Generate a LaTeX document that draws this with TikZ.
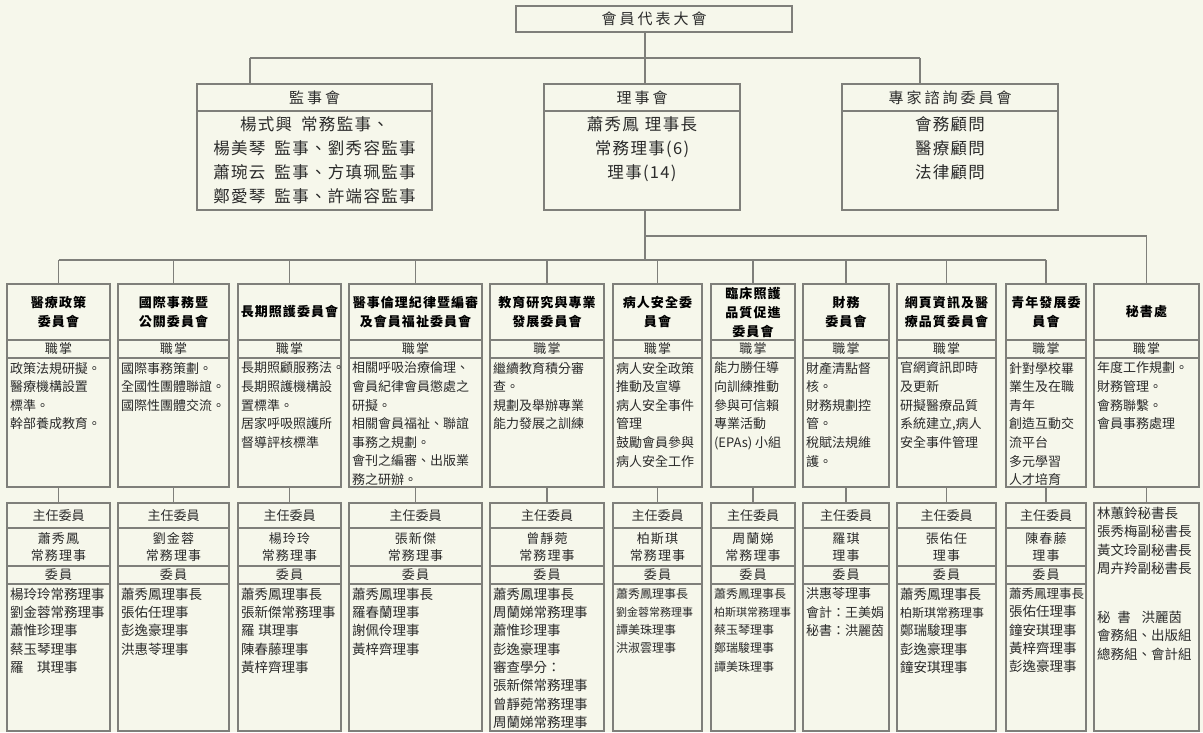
\documentclass[tikz,border=0pt]{standalone}
\usepackage{fontspec}
\setmainfont{Noto Sans CJK TC}
\newfontfamily\spacedfont{Noto Sans CJK TC}[LetterSpace=20]
\newfontfamily\loosefont{Noto Sans CJK TC}[LetterSpace=8]
\usepackage{xcolor}
\usepackage{tikz}
\definecolor{paper}{HTML}{F6F7EB}
\definecolor{rule}{HTML}{7F7F7A}
\definecolor{ink}{HTML}{2B2B2B}
\newcommand\fitline[2]{{\fontsize{#1}{18.3}\selectfont #2}}
\tikzset{
  link/.style={draw=rule, line width=1.2pt},
  cell/.style={draw=rule, line width=1.2pt, anchor=north west, outer sep=0pt, inner sep=1pt, align=center, text=ink},
  topbox/.style={cell, font=\spacedfont\fontsize{15}{18}\selectfont},
  topnote/.style={anchor=north, align=center, inner sep=5pt, text=ink, font=\loosefont\fontsize{16.5}{24}\selectfont},
  ttl/.style={cell, minimum height=56, text=black, font=\loosefont\bfseries\fontsize{13}{19}\selectfont},
  tag/.style={cell, minimum height=18, font=\loosefont\fontsize{13}{16}\selectfont},
  dbox/.style={cell, minimum height=129},
  chief/.style={cell, minimum height=25, font=\fontsize{13}{16}\selectfont},
  who/.style={cell, minimum height=38, font=\loosefont\fontsize{13}{17}\selectfont},
  wbox/.style={cell, minimum height=147},
  duties/.style={anchor=north west, align=left, inner xsep=3, inner ysep=4, outer sep=0pt, minimum width=0, minimum height=0, text=ink, font=\fontsize{13}{18.6}\selectfont},
  members/.style={duties, font=\fontsize{13.5}{18.3}\selectfont}
}
\begin{document}
\begin{tikzpicture}[x=1pt,y=-1pt]
\useasboundingbox (0,0) rectangle (1203,732);
\fill[paper] (0,0) rectangle (1203,732);

% top level
\node[topbox, minimum width=276, minimum height=26] (dahui) at (516,6) {會員代表大會};

\node[topbox, minimum width=235, minimum height=27] (jianshiH) at (197,84) {監事會};
\node[cell, minimum width=235, minimum height=99] (jianshiB) at (jianshiH.south west) {};
\node[topnote] (jianshiT) at (jianshiB.north) {楊式興\hspace{9pt}常務監事、\\楊美琴\hspace{9pt}監事、劉秀容監事\\蕭琬云\hspace{9pt}監事、方瑱珮監事\\鄭愛琴\hspace{9pt}監事、許端容監事};

\node[topbox, minimum width=196, minimum height=27] (lishiH) at (544,84) {理事會};
\node[cell, minimum width=196, minimum height=99] (lishiB) at (lishiH.south west) {};
\node[topnote] (lishiT) at (lishiB.north) {蕭秀鳳\hspace{6pt}理事長\\常務理事(6)\\理事(14)};

\node[topbox, minimum width=216, minimum height=27] (zhuanH) at (842,84) {專家諮詢委員會};
\node[cell, minimum width=216, minimum height=99] (zhuanB) at (zhuanH.south west) {};
\node[topnote] (zhuanT) at (zhuanB.north) {會務顧問\\醫療顧問\\法律顧問};

% committees
\begin{scope}[minimum width=103]
\node[ttl] (h1) at (7,284) {醫療政策\\委員會};
\node[tag] (z1) at (h1.south west) {職掌};
\node[dbox] (d1) at (z1.south west) {};
\node[duties] (d1t) at (d1.north west) {政策法規研擬。\\醫療機構設置\\標準。\\幹部養成教育。};
\node[chief] (r1) at (7,503) {主任委員};
\node[who] (n1) at (r1.south west) {蕭秀鳳\\常務理事};
\node[tag] (m1) at (n1.south west) {委員};
\node[wbox] (w1) at (m1.south west) {};
\node[members] (w1t) at (w1.north west) {楊玲玲常務理事\\劉金蓉常務理事\\蕭惟珍理事\\蔡玉琴理事\\羅　琪理事};
\end{scope}

\begin{scope}[minimum width=111]
\node[ttl] (h2) at (118,284) {國際事務暨\\公關委員會};
\node[tag] (z2) at (h2.south west) {職掌};
\node[dbox] (d2) at (z2.south west) {};
\node[duties] (d2t) at (d2.north west) {國際事務策劃。\\全國性團體聯誼。\\國際性團體交流。};
\node[chief] (r2) at (118,503) {主任委員};
\node[who] (n2) at (r2.south west) {劉金蓉\\常務理事};
\node[tag] (m2) at (n2.south west) {委員};
\node[wbox] (w2) at (m2.south west) {};
\node[members] (w2t) at (w2.north west) {蕭秀鳳理事長\\張佑任理事\\彭逸豪理事\\洪惠苓理事};
\end{scope}

\begin{scope}[minimum width=103]
\node[ttl] (h3) at (238,284) {長期照護委員會};
\node[tag] (z3) at (h3.south west) {職掌};
\node[dbox] (d3) at (z3.south west) {};
\node[duties] (d3t) at (d3.north west) {長期照顧服務法。\\長期照護機構設\\置標準。\\居家呼吸照護所\\督導評核標準};
\node[chief] (r3) at (238,503) {主任委員};
\node[who] (n3) at (r3.south west) {楊玲玲\\常務理事};
\node[tag] (m3) at (n3.south west) {委員};
\node[wbox] (w3) at (m3.south west) {};
\node[members] (w3t) at (w3.north west) {蕭秀鳳理事長\\張新傑常務理事\\羅\hspace{4pt}琪理事\\陳春藤理事\\黃梓齊理事};
\end{scope}

\begin{scope}[minimum width=133]
\node[ttl] (h4) at (349,284) {醫事倫理紀律暨編審\\及會員福祉委員會};
\node[tag] (z4) at (h4.south west) {職掌};
\node[dbox] (d4) at (z4.south west) {};
\node[duties] (d4t) at (d4.north west) {相關呼吸治療倫理、\\會員紀律會員懲處之\\研擬。\\相關會員福祉、聯誼\\事務之規劃。\\會刊之編審、出版業\\務之研辦。};
\node[chief] (r4) at (349,503) {主任委員};
\node[who] (n4) at (r4.south west) {張新傑\\常務理事};
\node[tag] (m4) at (n4.south west) {委員};
\node[wbox] (w4) at (m4.south west) {};
\node[members] (w4t) at (w4.north west) {蕭秀鳳理事長\\羅春蘭理事\\謝佩伶理事\\黃梓齊理事};
\end{scope}

\begin{scope}[minimum width=114]
\node[ttl] (h5) at (490,284) {教育研究與專業\\發展委員會};
\node[tag] (z5) at (h5.south west) {職掌};
\node[dbox] (d5) at (z5.south west) {};
\node[duties] (d5t) at (d5.north west) {繼續教育積分審\\查。\\規劃及舉辦專業\\能力發展之訓練};
\node[chief] (r5) at (490,503) {主任委員};
\node[who] (n5) at (r5.south west) {曾靜菀\\常務理事};
\node[tag] (m5) at (n5.south west) {委員};
\node[wbox] (w5) at (m5.south west) {};
\node[members] (w5t) at (w5.north west) {蕭秀鳳理事長\\周蘭娣常務理事\\蕭惟珍理事\\彭逸豪理事\\審查學分：\\張新傑常務理事\\曾靜菀常務理事\\周蘭娣常務理事};
\end{scope}

\begin{scope}[minimum width=89]
\node[ttl] (h6) at (613,284) {病人安全委\\員會};
\node[tag] (z6) at (h6.south west) {職掌};
\node[dbox] (d6) at (z6.south west) {};
\node[duties] (d6t) at (d6.north west) {病人安全政策\\推動及宣導\\病人安全事件\\管理\\鼓勵會員參與\\病人安全工作};
\node[chief] (r6) at (613,503) {主任委員};
\node[who] (n6) at (r6.south west) {柏斯琪\\常務理事};
\node[tag] (m6) at (n6.south west) {委員};
\node[wbox] (w6) at (m6.south west) {};
\node[members, font=\fontsize{12}{18.3}\selectfont] (w6t) at (w6.north west) {蕭秀鳳理事長\\\fitline{11}{劉金蓉常務理事}\\譚美珠理事\\洪淑雲理事};
\end{scope}

\begin{scope}[minimum width=84]
\node[ttl] (h7) at (711,284) {臨床照護\\品質促進\\委員會};
\node[tag] (z7) at (h7.south west) {職掌};
\node[dbox] (d7) at (z7.south west) {};
\node[duties] (d7t) at (d7.north west) {能力勝任導\\向訓練推動\\參與可信賴\\專業活動\\(EPAs) 小組};
\node[chief] (r7) at (711,503) {主任委員};
\node[who] (n7) at (r7.south west) {周蘭娣\\常務理事};
\node[tag] (m7) at (n7.south west) {委員};
\node[wbox] (w7) at (m7.south west) {};
\node[members, font=\fontsize{12}{18.3}\selectfont] (w7t) at (w7.north west) {蕭秀鳳理事長\\\fitline{11}{柏斯琪常務理事}\\蔡玉琴理事\\鄭瑞駿理事\\譚美珠理事};
\end{scope}

\begin{scope}[minimum width=86]
\node[ttl] (h8) at (803,284) {財務\\委員會};
\node[tag] (z8) at (h8.south west) {職掌};
\node[dbox] (d8) at (z8.south west) {};
\node[duties] (d8t) at (d8.north west) {財產清點督\\核。\\財務規劃控\\管。\\稅賦法規維\\護。};
\node[chief] (r8) at (803,503) {主任委員};
\node[who] (n8) at (r8.south west) {羅琪\\理事};
\node[tag] (m8) at (n8.south west) {委員};
\node[wbox] (w8) at (m8.south west) {};
\node[members, font=\fontsize{13}{18.3}\selectfont] (w8t) at (w8.north west) {洪惠苓理事\\會計：王美娟\\秘書：洪麗茵};
\end{scope}

\begin{scope}[minimum width=99]
\node[ttl] (h9) at (897,284) {網頁資訊及醫\\療品質委員會};
\node[tag] (z9) at (h9.south west) {職掌};
\node[dbox] (d9) at (z9.south west) {};
\node[duties] (d9t) at (d9.north west) {官網資訊即時\\及更新\\研擬醫療品質\\系統建立,病人\\安全事件管理};
\node[chief] (r9) at (897,503) {主任委員};
\node[who] (n9) at (r9.south west) {張佑任\\理事};
\node[tag] (m9) at (n9.south west) {委員};
\node[wbox] (w9) at (m9.south west) {};
\node[members] (w9t) at (w9.north west) {蕭秀鳳理事長\\\fitline{12}{柏斯琪常務理事}\\鄭瑞駿理事\\彭逸豪理事\\鐘安琪理事};
\end{scope}

\begin{scope}[minimum width=80]
\node[ttl] (h10) at (1006,284) {青年發展委\\員會};
\node[tag] (z10) at (h10.south west) {職掌};
\node[dbox] (d10) at (z10.south west) {};
\node[duties] (d10t) at (d10.north west) {針對學校畢\\業生及在職\\青年\\創造互動交\\流平台\\多元學習\\人才培育};
\node[chief] (r10) at (1006,503) {主任委員};
\node[who] (n10) at (r10.south west) {陳春藤\\理事};
\node[tag] (m10) at (n10.south west) {委員};
\node[wbox] (w10) at (m10.south west) {};
\node[members] (w10t) at (w10.north west) {\fitline{12.5}{蕭秀鳳理事長}\\張佑任理事\\鐘安琪理事\\黃梓齊理事\\彭逸豪理事};
\end{scope}

\begin{scope}[minimum width=105]
\node[ttl] (h11) at (1094,284) {秘書處};
\node[tag] (z11) at (h11.south west) {職掌};
\node[dbox] (d11) at (z11.south west) {};
\node[duties] (d11t) at (d11.north west) {年度工作規劃。\\財務管理。\\會務聯繫。\\會員事務處理};
\node[cell, minimum height=228] (b11) at (1094,503) {};
\node[members] (b11t) at (b11.north west) {林蕙鈴秘書長\\張秀梅副秘書長\\黃文玲副秘書長\\周卉羚副秘書長\\[31pt]秘\hspace{0.5em}書\hspace{0.8em}洪麗茵\\會務組、出版組\\總務組、會計組};
\end{scope}

% connectors
\coordinate (bus1) at (645,58);
\coordinate (jsup) at (250,58);
\coordinate (zjup) at (920,58);
\coordinate (bus3) at (645,236);
\coordinate (bus2) at (645,260);
\draw[link] (dahui.south -| bus1) -- (lishiH.north -| bus1);
\draw[link] (jsup) -- (zjup);
\draw[link] (jsup) -- (jsup |- jianshiH.north);
\draw[link] (zjup) -- (zjup |- zhuanH.north);
\draw[link] (lishiB.south -| bus2) -- (bus2);
\draw[link] (bus3) -| (h11.north);
\draw[link] (h1.north |- bus2) -- (h10.north |- bus2);
\draw[link] (h1.north |- bus2) -- (h1.north);
\draw[link] (h2.north |- bus2) -- (h2.north);
\draw[link] (h3.north |- bus2) -- (h3.north);
\draw[link] (h4.north |- bus2) -- (h4.north);
\draw[link] (h5.north |- bus2) -- (h5.north);
\draw[link] (h6.north |- bus2) -- (h6.north);
\draw[link] (h7.north |- bus2) -- (h7.north);
\draw[link] (h8.north |- bus2) -- (h8.north);
\draw[link] (h9.north |- bus2) -- (h9.north);
\draw[link] (h10.north |- bus2) -- (h10.north);
\draw[link] (d1.south) -- (r1.north);
\draw[link] (d2.south) -- (r2.north);
\draw[link] (d3.south) -- (r3.north);
\draw[link] (d4.south) -- (r4.north);
\draw[link] (d5.south) -- (r5.north);
\draw[link] (d6.south) -- (r6.north);
\draw[link] (d7.south) -- (r7.north);
\draw[link] (d8.south) -- (r8.north);
\draw[link] (d9.south) -- (r9.north);
\draw[link] (d10.south) -- (r10.north);
\draw[link] (d11.south) -- (b11.north);
\end{tikzpicture}
\end{document}
